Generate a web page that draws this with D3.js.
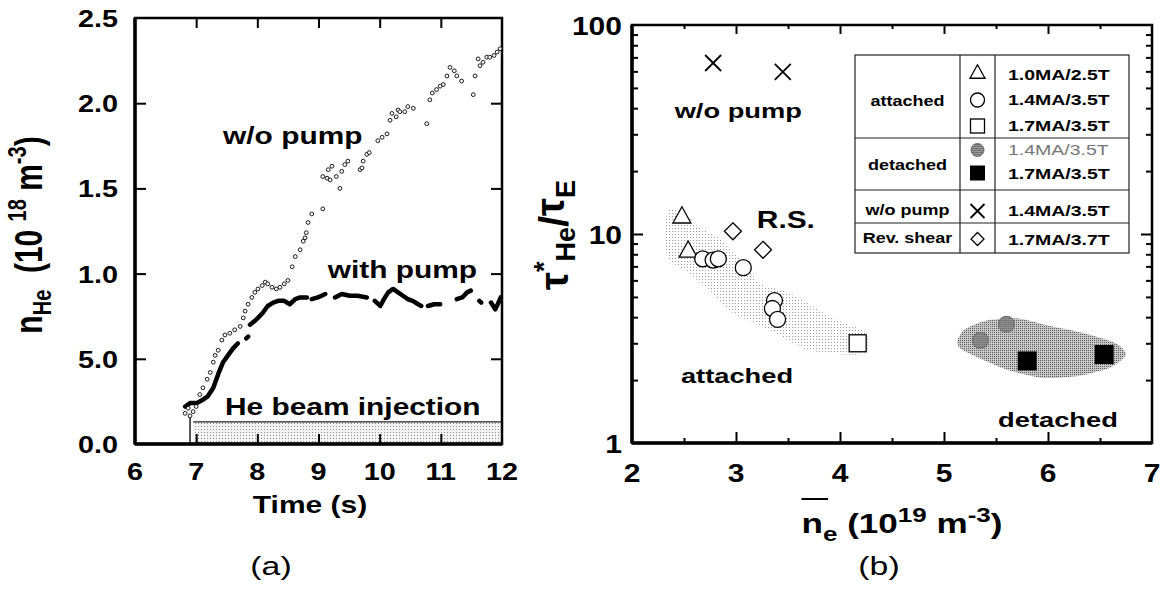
<!DOCTYPE html>
<html><head><meta charset="utf-8">
<script src="https://cdn.jsdelivr.net/npm/d3@7"></script>
<style>
body{margin:0;background:#fff;}
svg{display:block;font-family:"Liberation Sans",Arial,Helvetica,sans-serif;}
text{white-space:pre;}
</style></head><body>
<svg id="c" width="1161" height="592"></svg>
<script>
// ================= Panel (a) data =================
const timeTicks = [6,7,8,9,10,11,12];
const densityTicks = [0,0.5,1,1.5,2,2.5];
const densityTickLabels = ["0.0","5.0","1.0","1.5","2.0","2.5"];
const woPumpTime = [6.82,6.87,6.90,6.95,7.00,7.06,7.11,7.18,7.23,7.28,7.31,7.36,7.42,7.47,7.55,7.63,7.72,7.77,7.80,7.85,7.91,7.96,8.01,8.08,8.13,8.17,8.24,8.31,8.37,8.44,8.50,8.57,8.62,8.70,8.75,8.78,8.80,8.83,8.89,9.07,9.07,9.14,9.16,9.19,9.22,9.29,9.35,9.38,9.43,9.48,9.68,9.71,9.73,9.79,9.83,9.97,10.04,10.12,10.17,10.20,10.27,10.30,10.33,10.41,10.46,10.55,10.77,10.82,10.86,10.93,10.99,11.04,11.10,11.15,11.22,11.26,11.34,11.53,11.56,11.61,11.64,11.69,11.75,11.80,11.87,11.92,11.97];
const woPumpDensity = [0.18,0.21,0.165,0.19,0.22,0.29,0.33,0.38,0.42,0.48,0.52,0.55,0.61,0.64,0.65,0.67,0.69,0.74,0.78,0.82,0.86,0.89,0.91,0.93,0.95,0.94,0.92,0.91,0.92,0.94,0.96,1.04,1.10,1.14,1.19,1.21,1.24,1.30,1.35,1.38,1.57,1.56,1.61,1.55,1.63,1.57,1.50,1.60,1.64,1.66,1.61,1.62,1.66,1.70,1.71,1.78,1.80,1.82,1.90,1.94,1.92,1.96,1.95,1.95,1.98,1.97,1.88,2.02,2.06,2.08,2.10,2.11,2.16,2.21,2.19,2.16,2.13,2.05,2.16,2.26,2.22,2.24,2.27,2.27,2.28,2.30,2.32];
// null entries mark gaps in the "with pump" trace
const withPumpTime = [6.82,6.90,7.01,7.11,7.19,7.28,7.36,7.44,7.52,7.60,7.68,null,7.82,7.85,null,7.88,7.95,8.01,8.09,8.17,8.26,8.34,8.44,8.53,8.62,8.70,8.81,null,8.89,8.99,9.11,null,9.27,9.38,9.51,9.64,9.79,null,9.92,10.01,10.07,10.14,10.22,10.30,10.38,10.46,10.54,10.63,10.68,null,10.79,10.89,10.99,null,11.26,11.35,11.43,11.49,null,11.63,11.66,null,11.82,11.89,11.93,11.98];
const withPumpDensity = [0.22,0.24,0.24,0.26,0.28,0.33,0.41,0.48,0.52,0.56,0.59,null,0.62,0.63,null,0.70,0.72,0.74,0.77,0.81,0.83,0.84,0.84,0.82,0.85,0.86,0.86,null,0.85,0.86,0.88,null,0.86,0.88,0.87,0.87,0.86,null,0.84,0.81,0.85,0.89,0.91,0.89,0.87,0.85,0.84,0.82,0.81,null,0.81,0.82,0.82,null,0.85,0.86,0.89,0.90,null,0.84,0.83,null,0.83,0.79,0.82,0.86];
const beamTime = [6.95, 12];       // shaded injection interval
const beamLevel = 0.13;            // height of shaded bar
const beamMarker = [6.9, 0.16];    // vertical start marker (time, top)

// ================= Panel (b) data =================
const densityTicksB = [2,3,4,5,6,7];
const densityMinorB = [2.5,3.5,4.5,5.5,6.5];
const ratioTicks = [1,10,100];
const ratioMinor = [2,3,4,5,6,7,8,9,20,30,40,50,60,70,80,90];
const attTriX = [2.48,2.54], attTriY = [12.1,8.3];
const attCirX = [2.68,2.78,2.83,3.07,3.37,3.35,3.40], attCirY = [7.6,7.5,7.6,6.9,4.8,4.4,3.9];
const attSqX = [4.17], attSqY = [3.0];
const detCirX = [5.35,5.60], detCirY = [3.1,3.7];
const detSqX = [5.80,6.54], detSqY = [2.47,2.65];
const woPumpX = [2.78,3.45], woPumpY = [65.8,59.6];
const revShearX = [2.97,3.26], revShearY = [10.3,8.4];
// shaded regions (outline vertices in data units)
const attachedBandX = [2.34,2.5,2.62,2.85,3.05,3.23,3.52,3.88,4.07,4.25,4.25,4.03,3.68,3.36,2.97,2.8,2.55,2.34];
const attachedBandY = [12.8,12.6,11.0,9.4,7.5,5.8,5.2,4.1,3.7,3.4,2.7,2.65,2.8,3.4,4.2,5.0,6.5,7.8];
const detachedBandX = [5.13,5.2,5.4,5.7,6.0,6.35,6.65,6.75,6.6,6.3,5.95,5.6,5.3,5.15];
const detachedBandY = [3.1,3.5,3.85,3.95,3.65,3.35,3.0,2.65,2.3,2.1,2.05,2.25,2.6,2.85];
// legend table
const legendGroups = ["attached","detached","w/o pump","Rev. shear"];
const legendSymbols = ["triangle","circle","square","greyCircle","blackSquare","cross","diamond"];
const legendLabels = ["1.0MA/2.5T","1.4MA/3.5T","1.7MA/3.5T","1.4MA/3.5T","1.7MA/3.5T","1.4MA/3.5T","1.7MA/3.7T"];

// ================= drawing =================
const svg = d3.select("#c");
const defs = svg.append("defs");
function dotPattern(id, w, h, dot, bg){
  const p = defs.append("pattern").attr("id",id).attr("width",w).attr("height",h).attr("patternUnits","userSpaceOnUse");
  if(bg) p.append("rect").attr("width",w).attr("height",h).attr("fill",bg);
  p.append("rect").attr("width",1).attr("height",1).attr("fill",dot);
}
dotPattern("pLight",3,3,"#9a9a9a",null);
dotPattern("pBeam",3,3,"#8a8a8a","#f4f4f4");
dotPattern("pDense",2,2,"#5e5e5e","#c8c8c8");
dotPattern("pGrey",2,2,"#444","#9a9a9a");

function rich(parent, o){
  const sx = o.sx==null?1.3:o.sx;
  const g = parent.append("g").attr("transform",`translate(${o.x},${o.y}) scale(${sx},1)`+(o.rotate?` rotate(${o.rotate})`:""));
  const t = g.append("text").attr("text-anchor",o.anchor||"start").attr("font-weight",o.weight||"bold").attr("fill",o.fill||"#000");
  o.parts.forEach(p=>t.append("tspan").attr("font-size",p.size).attr("dy",p.dy||0).text(p.t));
  return {g,t};
}

// ---------- Panel (a) ----------
const xA = d3.scaleLinear().domain([6,12]).range([135,502]);
const yA = d3.scaleLinear().domain([0,2.5]).range([444,18]);
const gA = svg.append("g");

// beam band
gA.append("rect").attr("x",xA(beamTime[0])).attr("y",yA(beamLevel))
  .attr("width",xA(beamTime[1])-xA(beamTime[0])).attr("height",yA(0)-yA(beamLevel)).attr("fill","url(#pBeam)");
gA.append("line").attr("x1",xA(beamTime[0])).attr("x2",xA(beamTime[1])).attr("y1",yA(beamLevel)).attr("y2",yA(beamLevel)).attr("stroke","#222").attr("stroke-width",1.2);
gA.append("line").attr("x1",xA(beamMarker[0])).attr("x2",xA(beamMarker[0])).attr("y1",yA(0)).attr("y2",yA(beamMarker[1])).attr("stroke","#222").attr("stroke-width",1.5);

// axes (ticks inward)
function styleAxis(sel){ sel.select(".domain").remove(); sel.selectAll("line").attr("stroke","#000").attr("stroke-width",2); }
gA.append("g").attr("transform",`translate(0,${yA(0)})`).call(d3.axisBottom(xA).tickValues(timeTicks.slice(1,-1)).tickSize(-10).tickFormat("")).call(styleAxis);
gA.append("g").attr("transform",`translate(0,${yA(2.5)})`).call(d3.axisTop(xA).tickValues(timeTicks.slice(1,-1)).tickSize(-10).tickFormat("")).call(styleAxis);
gA.append("g").attr("transform",`translate(${xA(6)},0)`).call(d3.axisLeft(yA).tickValues(densityTicks.slice(1,-1)).tickSize(-11).tickFormat("")).call(styleAxis);
gA.append("g").attr("transform",`translate(${xA(12)},0)`).call(d3.axisRight(yA).tickValues(densityTicks.slice(1,-1)).tickSize(-11).tickFormat("")).call(styleAxis);
// tick labels
timeTicks.forEach(v=>rich(gA,{x:xA(v),y:yA(0)+36,anchor:"middle",sx:1.2,parts:[{t:String(v),size:24}]}));
densityTicks.forEach((v,i)=>rich(gA,{x:xA(6)-17,y:yA(v)+9,anchor:"end",sx:1.2,parts:[{t:densityTickLabels[i],size:24}]}));
// frame
gA.append("rect").attr("x",xA(6)).attr("y",yA(2.5)).attr("width",xA(12)-xA(6)).attr("height",yA(0)-yA(2.5)).attr("fill","none").attr("stroke","#000").attr("stroke-width",2.5);
gA.append("line").attr("x1",xA(6)).attr("x2",xA(6)).attr("y1",yA(2.5)).attr("y2",yA(0)).attr("stroke","#000").attr("stroke-width",3.5);
gA.append("line").attr("x1",xA(6)).attr("x2",xA(12)).attr("y1",yA(0)).attr("y2",yA(0)).attr("stroke","#000").attr("stroke-width",3.5);

// with pump trace
const wp = withPumpTime.map((t,i)=>[t,withPumpDensity[i]]);
gA.append("path").attr("d",d3.line().defined(d=>d[0]!=null).x(d=>xA(d[0])).y(d=>yA(d[1]))(wp))
  .attr("fill","none").attr("stroke","#000").attr("stroke-width",4.5).attr("stroke-linecap","round").attr("stroke-linejoin","round");
// w/o pump points
gA.append("g").selectAll("circle").data(woPumpTime.map((t,i)=>[t,woPumpDensity[i]])).join("circle")
  .attr("cx",d=>xA(d[0])).attr("cy",d=>yA(d[1])).attr("r",1.9).attr("fill","#fff").attr("stroke","#000").attr("stroke-width",0.9);

// annotations
rich(gA,{x:xA(7.44),y:yA(1.76),parts:[{t:"w/o pump",size:23}]});
rich(gA,{x:xA(9.15),y:yA(0.976),parts:[{t:"with pump",size:23}]});
rich(gA,{x:xA(7.47),y:yA(0.17),parts:[{t:"He beam injection",size:23}]});
// axis titles
rich(gA,{x:310,y:513,anchor:"middle",sx:1.25,parts:[{t:"Time (s)",size:24}]});
rich(gA,{x:42,y:235,anchor:"middle",rotate:-90,parts:[
  {t:"n",size:30},{t:"He",size:20,dy:7},{t:"  (10 ",size:30,dy:-7},{t:"18",size:20,dy:-12},{t:" m",size:30,dy:12},{t:"-3",size:20,dy:-12},{t:")",size:30,dy:12}]});
rich(svg,{x:271,y:575,anchor:"middle",weight:"normal",parts:[{t:"(a)",size:26}]});

// ---------- Panel (b) ----------
const xB = d3.scaleLinear().domain([2,7]).range([632,1152]);
const yB = d3.scaleLog().domain([1,100]).range([443,25]);
const gB = svg.append("g");

// shaded regions
const closed = d3.line().curve(d3.curveCardinalClosed.tension(0.3)).x(d=>xB(d[0])).y(d=>yB(d[1]));
gB.append("path").attr("d",closed(attachedBandX.map((x,i)=>[x,attachedBandY[i]]))).attr("fill","url(#pLight)");
gB.append("path").attr("d",closed(detachedBandX.map((x,i)=>[x,detachedBandY[i]]))).attr("fill","url(#pDense)");

// axes
gB.append("g").attr("transform",`translate(0,${yB(1)})`).call(d3.axisBottom(xB).tickValues(densityTicksB.slice(1,-1)).tickSize(-11).tickFormat("")).call(styleAxis);
gB.append("g").attr("transform",`translate(0,${yB(1)})`).call(d3.axisBottom(xB).tickValues(densityMinorB).tickSize(-5).tickFormat("")).call(styleAxis);
gB.append("g").attr("transform",`translate(0,${yB(100)})`).call(d3.axisTop(xB).tickValues(densityTicksB.slice(1,-1)).tickSize(-9).tickFormat("")).call(styleAxis);
gB.append("g").attr("transform",`translate(0,${yB(100)})`).call(d3.axisTop(xB).tickValues(densityMinorB).tickSize(-4).tickFormat("")).call(styleAxis);
gB.append("g").attr("transform",`translate(${xB(2)},0)`).call(d3.axisLeft(yB).tickValues([10]).tickSize(-11).tickFormat("")).call(styleAxis);
gB.append("g").attr("transform",`translate(${xB(2)},0)`).call(d3.axisLeft(yB).tickValues(ratioMinor).tickSize(-6).tickFormat("")).call(styleAxis);
gB.append("g").attr("transform",`translate(${xB(7)},0)`).call(d3.axisRight(yB).tickValues([10]).tickSize(-11).tickFormat("")).call(styleAxis);
gB.append("g").attr("transform",`translate(${xB(7)},0)`).call(d3.axisRight(yB).tickValues(ratioMinor).tickSize(-6).tickFormat("")).call(styleAxis);
densityTicksB.forEach(v=>rich(gB,{x:xB(v),y:yB(1)+39,anchor:"middle",sx:1.2,parts:[{t:String(v),size:25}]}));
ratioTicks.forEach(v=>rich(gB,{x:xB(2)-10,y:yB(v)+10,anchor:"end",sx:1.2,parts:[{t:String(v),size:25}]}));
gB.append("rect").attr("x",xB(2)).attr("y",yB(100)).attr("width",xB(7)-xB(2)).attr("height",yB(1)-yB(100)).attr("fill","none").attr("stroke","#000").attr("stroke-width",2.5);
gB.append("line").attr("x1",xB(2)).attr("x2",xB(2)).attr("y1",yB(100)).attr("y2",yB(1)).attr("stroke","#000").attr("stroke-width",3.5);
gB.append("line").attr("x1",xB(2)).attr("x2",xB(7)).attr("y1",yB(1)).attr("y2",yB(1)).attr("stroke","#000").attr("stroke-width",3.5);

// markers
function marker(sel, type, s){
  const h = s/2;
  if(type==="triangle") sel.append("path").attr("d",`M0,${-s*0.55}L${h},${s*0.35}L${-h},${s*0.35}Z`).attr("fill","#fff").attr("stroke","#000").attr("stroke-width",1.3);
  else if(type==="circle") sel.append("circle").attr("r",h).attr("fill","#fff").attr("stroke","#000").attr("stroke-width",1.3);
  else if(type==="square") sel.append("rect").attr("x",-h).attr("y",-h).attr("width",s).attr("height",s).attr("fill","#fff").attr("stroke","#000").attr("stroke-width",1.3);
  else if(type==="greyCircle") sel.append("circle").attr("r",h).attr("fill","url(#pGrey)").attr("stroke","#666").attr("stroke-width",1);
  else if(type==="blackSquare") sel.append("rect").attr("x",-h).attr("y",-h).attr("width",s).attr("height",s).attr("fill","#000");
  else if(type==="cross") sel.append("path").attr("d",`M${-h},${-h}L${h},${h}M${-h},${h}L${h},${-h}`).attr("stroke","#000").attr("stroke-width",1.8);
  else if(type==="diamond") sel.append("path").attr("d",`M0,${-h}L${h},0L0,${h}L${-h},0Z`).attr("fill","#fff").attr("stroke","#000").attr("stroke-width",1.3);
}
function series(xs, ys, type, s){
  xs.forEach((x,i)=>{ const g=gB.append("g").attr("transform",`translate(${xB(x)},${yB(ys[i])})`); marker(g,type,s); });
}
series(attTriX,attTriY,"triangle",18);
series(attCirX,attCirY,"circle",16);
series(attSqX,attSqY,"square",17);
series(detCirX,detCirY,"greyCircle",16);
series(detSqX,detSqY,"blackSquare",19);
series(woPumpX,woPumpY,"cross",16);
series(revShearX,revShearY,"diamond",17);

// annotations
rich(gB,{x:xB(2.41),y:yB(35.9),parts:[{t:"w/o pump",size:21}]});
rich(gB,{x:xB(3.20),y:yB(10.7),parts:[{t:"R.S.",size:23}]});
rich(gB,{x:xB(2.47),y:yB(1.94),parts:[{t:"attached",size:21}]});
rich(gB,{x:xB(5.52),y:yB(1.19),parts:[{t:"detached",size:21}]});

// axis titles
const xt = rich(gB,{x:902,y:533,anchor:"middle",parts:[
  {t:"n",size:27},{t:"e",size:20,dy:8},{t:" (10",size:27,dy:-8},{t:"19",size:20,dy:-11},{t:" m",size:27,dy:11},{t:"-3",size:20,dy:-11},{t:")",size:27,dy:11}]});
const ext = xt.t.node().getExtentOfChar(0);
xt.g.append("line").attr("x1",ext.x).attr("x2",ext.x+ext.width+4).attr("y1",-34).attr("y2",-34).attr("stroke","#000").attr("stroke-width",2);
rich(gB,{x:568,y:235,anchor:"middle",sx:1.0,rotate:-90,parts:[
  {t:"τ",size:40},{t:"*",size:27,dy:-15},{t:"He",size:27,dy:22},{t:"/",size:40,dy:-7},{t:"τ",size:40,dy:-4},{t:"E",size:27,dy:11}]});
rich(svg,{x:879,y:575,anchor:"middle",weight:"normal",parts:[{t:"(b)",size:26}]});

// legend table
const L = svg.append("g");
const lx0=855, lx1=960, lx2=995, lx3=1129, rows=[55,138,190,223,253];
L.append("rect").attr("x",lx0).attr("y",rows[0]).attr("width",lx3-lx0).attr("height",rows[4]-rows[0]).attr("fill","#fff").attr("stroke","#222").attr("stroke-width",1.2);
rows.slice(1,4).forEach(y=>L.append("line").attr("x1",lx0).attr("x2",lx3).attr("y1",y).attr("y2",y).attr("stroke","#222").attr("stroke-width",1.2));
[lx1,lx2].forEach(x=>L.append("line").attr("x1",x).attr("x2",x).attr("y1",rows[0]).attr("y2",rows[4]).attr("stroke","#222").attr("stroke-width",1.2));
const groupBase = [106,170,215,243];
legendGroups.forEach((gname,i)=>rich(L,{x:(lx0+lx1)/2,y:groupBase[i],anchor:"middle",sx:1.2,parts:[{t:gname,size:15}]}));
const symY = [73,100,126,150,173,211,239];
const symSize = [15,14,14,13,15,14,13];
const lblBase = [80,105,131,155,179,216,245];
legendSymbols.forEach((s,i)=>{ const g=L.append("g").attr("transform",`translate(${(lx1+lx2)/2},${symY[i]})`); marker(g,s,symSize[i]); });
legendLabels.forEach((lab,i)=>rich(L,{x:1008,y:lblBase[i],sx:1.3,weight:i===3?"normal":"bold",fill:i===3?"#777":"#000",parts:[{t:lab,size:15}]}));
</script>
</body></html>
